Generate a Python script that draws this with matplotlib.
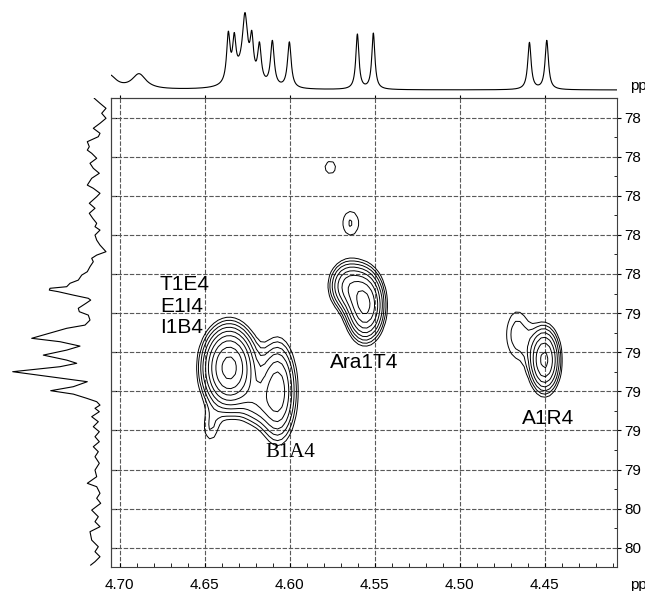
import numpy as np
import matplotlib
matplotlib.use("Agg")
import matplotlib.pyplot as plt

plt.rcParams['font.family'] = ['Liberation Sans', 'DejaVu Sans']

# 1H projection (top): peak centres (ppm), heights, half widths
h_ppm = [4.7060, 4.6885, 4.6360, 4.6325, 4.6262, 4.6280, 4.6222, 4.6177,
         4.6101, 4.6001, 4.5601, 4.5507, 4.4589, 4.4487]
h_height = [14, 15, 47, 38, 58, 14, 38, 37.5, 45, 46, 55, 56, 47, 49]
h_width = [0.0050, 0.0050, 0.0012, 0.0012, 0.0018, 0.0060, 0.0012, 0.0013,
           0.0013, 0.0013, 0.0011, 0.0011, 0.0012, 0.0012]

# 13C projection (left): trace (ppm, intensity)
c_ppm = [77.955, 77.980, 78.005, 78.030, 78.055, 78.080, 78.105, 78.130, 78.147,
         78.172, 78.197, 78.214, 78.230, 78.255, 78.280, 78.305, 78.330, 78.355,
         78.389, 78.405, 78.430, 78.447, 78.480, 78.505, 78.530, 78.555, 78.580,
         78.597, 78.614, 78.639, 78.664, 78.689, 78.722, 78.739, 78.755, 78.772,
         78.797, 78.822, 78.839, 78.864, 78.880, 78.897, 78.905, 78.914, 78.922,
         78.939, 78.955, 78.964, 78.980, 79.005, 79.022, 79.039, 79.064, 79.089,
         79.105, 79.155, 79.172, 79.194, 79.214, 79.239, 79.264, 79.280, 79.297,
         79.322, 79.347, 79.372, 79.397, 79.417, 79.434, 79.455, 79.472, 79.489,
         79.505, 79.522, 79.547, 79.572, 79.597, 79.622, 79.647, 79.672, 79.697,
         79.722, 79.747, 79.780, 79.814, 79.847, 79.880, 79.897, 79.930, 79.955,
         79.980, 80.014, 80.047, 80.072, 80.097, 80.122, 80.164, 80.197, 80.222,
         80.247, 80.272, 80.289]
c_int = [16.7, 11, 5, 9.3, 5, 11, 17.7, 11, 12.7,
         23.7, 21.7, 23.7, 19.3, 14.3, 21, 17.7, 11.7, 19.3,
         23.7, 17.7, 11, 14.3, 21.7, 16, 21.7, 18.3, 14.3,
         16, 11, 16, 14.3, 11, 5, 14.3, 19.3, 17.7,
         21, 23.7, 29.3, 32.7, 41, 44.3, 61, 61.7, 52.7,
         37.7, 22.7, 20.3, 25, 32.7, 31.7, 22.7, 21, 26,
         44.3, 79.3, 51, 31, 44.3, 67.7, 44.3, 34.3, 51,
         98.3, 61, 23.7, 37.7, 60.3, 37.7, 24.3, 14.3, 11,
         16, 11.7, 19.3, 12.7, 17.7, 11.7, 16, 11.7, 17.7,
         12.7, 16, 11.7, 16, 14.3, 23.7, 14.3, 11, 14.3,
         10.3, 19.3, 12.7, 16, 11, 21, 19.3, 12.7, 16,
         11, 16, 20.3]

# 2D cross peaks: centre (1H, 13C), spreads, intensity
pk_h = [4.6355, 4.6465, 4.6070, 4.6200, 4.5555, 4.5660, 4.5760, 4.5640, 4.4500, 4.4660]
pk_c = [79.280, 79.590, 79.400, 79.460, 78.960, 78.860, 78.255, 78.540, 79.240, 79.110]
pk_sh = [0.0085, 0.0045, 0.0065, 0.0060, 0.0062, 0.0065, 0.0074, 0.0057, 0.0053, 0.0065]
pk_sc = [0.115, 0.075, 0.150, 0.080, 0.100, 0.075, 0.074, 0.073, 0.098, 0.120]
pk_amp = [12.5, 1.25, 5.5, 2.0, 8.9, 4.5, 1.1, 1.4, 6.6, 1.6]

xtick_values = [4.70, 4.65, 4.60, 4.55, 4.50, 4.45]
xtick_labels = ["4.70", "4.65", "4.60", "4.55", "4.50", "4.45"]
ytick_values = [78.0, 78.2, 78.4, 78.6, 78.8, 79.0, 79.2, 79.4, 79.6, 79.8, 80.0, 80.2]
ytick_labels = ["78", "78", "78", "78", "78", "79", "79", "79", "79", "79", "80", "80"]

labels = ["T1E4", "E1I4", "I1B4", "Ara1T4", "A1R4"]
label_h = [4.6762, 4.6762, 4.6762, 4.5762, 4.4634]
label_c = [78.854, 78.968, 79.072, 79.254, 79.539]

xlim = (4.705, 4.4074)
ylim = (80.2985, 77.9535)

W, H = 645, 591
fig = plt.figure(figsize=(6.45, 5.91), dpi=100)
L, R, T, B = 111, 617, 98, 567
ax = fig.add_axes([L / W, 1 - B / H, (R - L) / W, (B - T) / H])
ax_top = fig.add_axes([L / W, 1 - 95 / H, (R - L) / W, 95 / H])
ax_left = fig.add_axes([0, 1 - B / H, L / W, (B - T) / H])

# top 1D spectrum
xh = np.linspace(xlim[0], xlim[1], 3000)
spec = np.zeros_like(xh)
for c, a, w in zip(h_ppm, h_height, h_width):
    spec += a / (1 + ((xh - c) / w) ** 2)
ax_top.plot(xh, spec, color='black', lw=0.8)
ax_top.set_xlim(*xlim)
ax_top.set_ylim(-5, 90)
ax_top.axis('off')

# left 1D spectrum
ax_left.plot(c_int, c_ppm, color='black', lw=0.8)
ax_left.set_xlim(111, 0)
ax_left.set_ylim(*ylim)
ax_left.axis('off')

# 2D contour map
xs = np.arange(4.407, 4.706, 0.0025)
ys = np.arange(77.95, 80.30, 0.02)
X, Y = np.meshgrid(xs, ys)
Z = np.zeros_like(X)
for h, c, sh, sc, a in zip(pk_h, pk_c, pk_sh, pk_sc, pk_amp):
    Z += a * np.exp(-0.5 * (((X - h) / sh) ** 2 + ((Y - c) / sc) ** 2))
levels = 1.35 ** np.arange(9)
ax.contour(X, Y, Z, levels=levels, colors='black', linewidths=0.7)

ax.set_xlim(*xlim)
ax.set_ylim(*ylim)
ax.set_axisbelow(True)
ax.grid(True, which='major', color='0.35', linestyle=(0, (4, 1.5)), lw=0.8)

ax.set_xticks(xtick_values)
ax.set_xticklabels(xtick_labels)
ax.set_xticks(np.round(np.arange(4.41, 4.705, 0.01), 2), minor=True)
ax.tick_params(axis='x', which='both', direction='in', length=3, pad=8,
               labelsize=11, top=False)

ax.yaxis.tick_right()
ax.set_yticks(ytick_values)
ax.set_yticklabels(ytick_labels)
ax.set_yticks([v + 0.1 for v in ytick_values[:-1]] + [77.9], minor=True)
ax.tick_params(axis='y', which='major', direction='out', length=3, pad=2,
               labelsize=11, left=False, right=True)
ax.tick_params(axis='y', which='minor', direction='in', length=2.5,
               left=False, right=True)

sec_l = ax.secondary_yaxis('left')
sec_l.set_yticks(ytick_values)
sec_l.tick_params(direction='in', length=4, labelleft=False)
sec_t = ax.secondary_xaxis('top')
sec_t.set_xticks(xtick_values)
sec_t.tick_params(direction='out', length=2, labeltop=False)

for s in list(ax.spines.values()) + [sec_l.spines['left'], sec_t.spines['top']]:
    s.set_color('0.25')
    s.set_linewidth(0.8)

for txt, h, c in zip(labels, label_h, label_c):
    ax.text(h, c, txt, fontsize=15, ha='left', va='center')
ax.text(4.6144, 79.7135, "B1A4", fontsize=15, ha='left', va='center',
        family=['Liberation Serif', 'DejaVu Serif'])

fig.text(630 / W, 1 - 585 / H, "ppm", fontsize=11, ha='left', va='center')
fig.text(630 / W, 1 - 86 / H, "ppm", fontsize=11, ha='left', va='center')

fig.savefig("out.png", dpi=100)
